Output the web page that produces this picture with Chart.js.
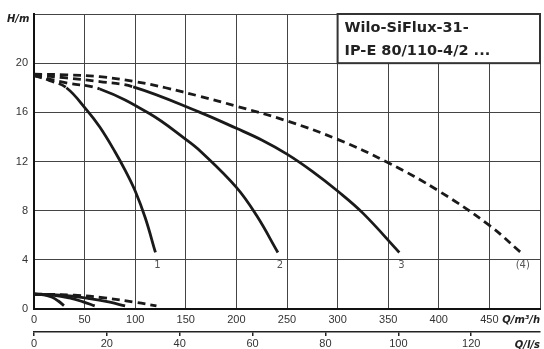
<!DOCTYPE html>
<html>
<head>
<meta charset="utf-8">
<script src="https://cdn.jsdelivr.net/npm/chart.js@4.4.0/dist/chart.umd.min.js"></script>
<style>
  body { margin: 0; background: #fff; }
  #wrap { width: 544px; height: 349px; }
</style>
</head>
<body>
<div id="wrap"><canvas id="pumpChart" width="544" height="349"></canvas></div>
<script>
// Q in m3/h, H in m
const q1 = [0, 15, 32, 52, 65, 80, 90, 100, 110, 120];
const h1 = [19.0, 18.6, 18.0, 16.2, 14.8, 12.8, 11.3, 9.6, 7.4, 4.6];
const q2 = [0, 32, 65, 114, 150, 165, 200, 220, 241];
const h2 = [19.0, 18.4, 17.9, 15.9, 13.8, 12.8, 9.9, 7.6, 4.6];
const q3 = [0, 32, 65, 98, 164, 200, 225, 250, 275, 300, 325, 361];
const h3 = [19.05, 18.8, 18.5, 18.07, 16.0, 14.7, 13.75, 12.6, 11.2, 9.6, 7.8, 4.6];
const q4 = [0, 32, 65, 100, 130, 164, 200, 250, 300, 350, 400, 450, 481];
const h4 = [19.1, 19.05, 18.9, 18.5, 18.0, 17.3, 16.5, 15.3, 13.8, 11.9, 9.6, 6.8, 4.6];

// lower curves near the Q axis
const qa = [0, 10, 18, 24, 29.6];
const ha = [1.2, 1.15, 0.95, 0.65, 0.27];
const qb = [0, 20, 35, 48, 60];
const hb = [1.2, 1.12, 0.9, 0.6, 0.25];
const qc = [0, 30, 55, 75, 90];
const hc = [1.2, 1.1, 0.85, 0.55, 0.25];
const qd = [0, 40, 70, 100, 121];
const hd = [1.22, 1.12, 0.9, 0.55, 0.25];

const curveNames = ['1', '2', '3', '(4)'];
const boxLines = ['Wilo-SiFlux-31-', 'IP-E 80/110-4/2 ...'];

const INK = '#1a1a1a';
const DASH = [8, 5];

function pts(q, h) {
    return q.map((v, i) => ({ x: v, y: h[i] }));
}

// dashUntil: segments before this index are dashed
function curve(q, h, dashUntil, label) {
    return {
        label: label,
        data: pts(q, h),
        borderColor: INK,
        borderWidth: 2.8,
        pointRadius: 0,
        fill: false,
        tension: 0.4,
        segment: {
            borderDash: c => (c.p1DataIndex <= dashUntil ? DASH : undefined)
        }
    };
}

const datasets = [
    curve(q1, h1, 2, '1'),
    curve(q2, h2, 2, '2'),
    curve(q3, h3, 3, '3'),
    curve(q4, h4, 99, '(4)'),
    curve(qa, ha, 0, 'a'),
    curve(qb, hb, 0, 'b'),
    curve(qc, hc, 0, 'c'),
    curve(qd, hd, 99, 'd')
];

const extras = {
    id: 'extras',
    beforeDatasetsDraw(chart) {
        const { ctx, scales: { x, y } } = chart;
        // type box in the top right corner
        const l = x.getPixelForValue(300), r = x.getPixelForValue(500);
        const t = y.getPixelForValue(24), b = y.getPixelForValue(20);
        ctx.save();
        ctx.fillStyle = '#fff';
        ctx.fillRect(l, t, r - l, b - t);
        ctx.strokeStyle = '#333';
        ctx.lineWidth = 2;
        ctx.strokeRect(l, t, r - l, b - t);
        ctx.fillStyle = '#222';
        ctx.font = 'bold 14.5px "DejaVu Sans"';
        ctx.textBaseline = 'alphabetic';
        ctx.textAlign = 'left';
        ctx.fillText(boxLines[0], l + 7, t + 18);
        ctx.fillText(boxLines[1], l + 7, t + 41);
        ctx.restore();
    },
    afterDatasetsDraw(chart) {
        const { ctx, scales: { x, y } } = chart;
        ctx.save();
        ctx.fillStyle = '#555';
        ctx.font = '10px "DejaVu Sans"';
        ctx.textAlign = 'center';
        ctx.textBaseline = 'middle';
        for (let i = 0; i < 4; i++) {
            const d = chart.data.datasets[i].data;
            const last = d[d.length - 1];
            ctx.fillText(curveNames[i], x.getPixelForValue(last.x) + 2, y.getPixelForValue(last.y) + 13);
        }
        // axis units
        ctx.fillStyle = '#222';
        ctx.font = 'italic bold 10px "DejaVu Sans"';
        ctx.textAlign = 'left';
        ctx.fillText('H/m', 7, 19);
        ctx.textAlign = 'right';
        ctx.fillText('Q/m³/h', chart.chartArea.right, 320);
        ctx.fillText('Q/l/s', chart.chartArea.right, 345);
        ctx.restore();
    }
};

const tickFont = { family: '"Liberation Sans"', size: 11 };

new Chart(document.getElementById('pumpChart').getContext('2d'), {
    type: 'line',
    data: { datasets: datasets },
    options: {
        responsive: false,
        animation: false,
        layout: { padding: { top: 14, right: 3, left: 0, bottom: 0 } },
        plugins: { legend: { display: false }, tooltip: { enabled: false } },
        scales: {
            x: {
                type: 'linear',
                position: 'bottom',
                weight: 0,
                min: 0,
                max: 500,
                ticks: {
                    stepSize: 50,
                    color: '#333',
                    font: tickFont,
                    padding: 4,
                    maxRotation: 0,
                    callback: v => (v === 500 ? '' : v)
                },
                grid: { color: '#444', lineWidth: 1, drawTicks: false },
                border: { display: true, width: 2, color: '#111' },
                afterFit: s => { s.height = 23; }
            },
            x2: {
                type: 'linear',
                position: 'bottom',
                weight: 1,
                min: 0,
                max: 500 / 3.6,
                ticks: {
                    stepSize: 20,
                    includeBounds: false,
                    color: '#333',
                    font: tickFont,
                    padding: 1,
                    maxRotation: 0
                },
                grid: { drawOnChartArea: false, drawTicks: true, tickLength: 4, color: '#222', lineWidth: 1.5 },
                border: { display: true, width: 1.5, color: '#222' },
                afterFit: s => { s.height = 17; }
            },
            y: {
                type: 'linear',
                position: 'left',
                min: 0,
                max: 24,
                ticks: {
                    stepSize: 4,
                    color: '#333',
                    font: tickFont,
                    padding: 6,
                    callback: v => (v === 24 ? '' : v)
                },
                grid: { color: '#444', lineWidth: 1, drawTicks: false },
                border: { display: true, width: 2, color: '#111' },
                afterFit: s => { s.width = 34; }
            }
        }
    },
    plugins: [extras]
});
</script>
</body>
</html>
